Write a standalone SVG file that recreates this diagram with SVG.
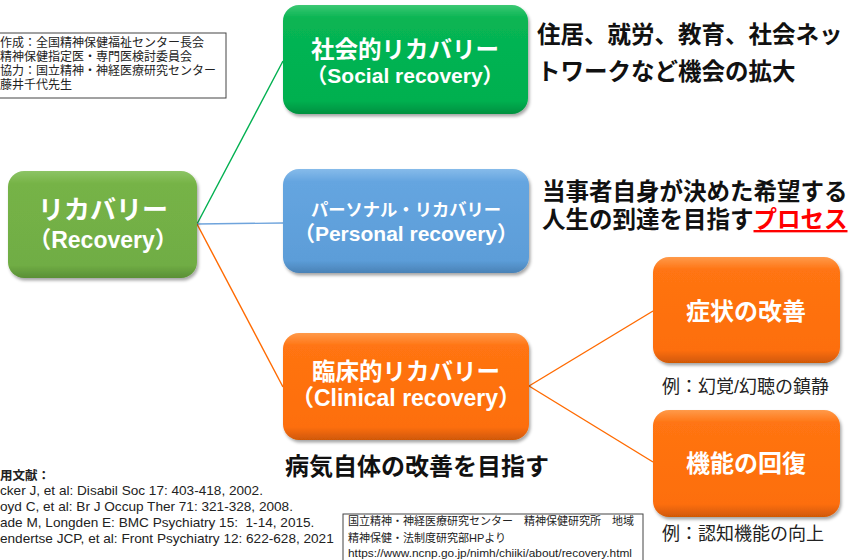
<svg xmlns="http://www.w3.org/2000/svg" width="853" height="560" viewBox="0 0 853 560">
<defs>
<filter id="sh" x="-10%" y="-10%" width="125%" height="130%">
<feDropShadow dx="1.5" dy="2.5" stdDeviation="1.8" flood-color="#000" flood-opacity="0.35"/>
</filter>
<linearGradient id="gRec" x1="0" y1="0" x2="0" y2="1">
<stop offset="0" stop-color="#8cc466"/><stop offset="0.12" stop-color="#76b346"/><stop offset="0.88" stop-color="#70ad45"/><stop offset="1" stop-color="#5a8f35"/>
</linearGradient>
<linearGradient id="gSoc" x1="0" y1="0" x2="0" y2="1">
<stop offset="0" stop-color="#3cc873"/><stop offset="0.12" stop-color="#08b553"/><stop offset="0.88" stop-color="#00b050"/><stop offset="1" stop-color="#00903f"/>
</linearGradient>
<linearGradient id="gPer" x1="0" y1="0" x2="0" y2="1">
<stop offset="0" stop-color="#86bbea"/><stop offset="0.12" stop-color="#65a5e0"/><stop offset="0.88" stop-color="#5c9dd8"/><stop offset="1" stop-color="#4a82b6"/>
</linearGradient>
<linearGradient id="gOra" x1="0" y1="0" x2="0" y2="1">
<stop offset="0" stop-color="#ff9a4a"/><stop offset="0.12" stop-color="#ff7412"/><stop offset="0.88" stop-color="#fd6e0c"/><stop offset="1" stop-color="#d05806"/>
</linearGradient>
<style>
.bx{filter:url(#sh);}
.wt{fill:#fff;font-family:"Liberation Sans","Noto Sans CJK JP",sans-serif;font-weight:bold;text-anchor:middle;}
.bk{fill:#111;font-family:"Liberation Sans","Noto Sans CJK JP",sans-serif;font-weight:bold;}
.sm{fill:#222;font-family:"Liberation Sans","Noto Sans CJK JP",sans-serif;}
.note{fill:#fff;stroke:#444;stroke-width:1;}
.cn{fill:none;stroke-width:1.4;}
</style>
</defs>
<rect width="853" height="560" fill="#fff"/>

<g id="credits">
<rect class="note" x="-2" y="33" width="228" height="65"/>
<text class="sm" font-size="12"><tspan x="0" y="47">作成：全国精神保健福祉センター長会</tspan><tspan x="0" y="61">精神保健指定医・専門医検討委員会</tspan><tspan x="0" y="75">協力：国立精神・神経医療研究センター</tspan><tspan x="0" y="89">藤井千代先生</tspan></text>
</g>

<g id="connectors">
<line class="cn" stroke="#00b050" x1="197" y1="224" x2="283" y2="61"/>
<line class="cn" stroke="#6fa4dc" x1="197" y1="224" x2="283" y2="223"/>
<line class="cn" stroke="#ff6a00" x1="197" y1="224" x2="283" y2="387"/>
<line class="cn" stroke="#ff6a00" x1="529" y1="386" x2="653" y2="311"/>
<line class="cn" stroke="#ff6a00" x1="529" y1="386" x2="653" y2="462"/>
</g>

<g id="recovery">
<rect class="bx" x="8" y="171" width="189" height="107" rx="16" fill="url(#gRec)"/>
<text class="wt" x="103" y="219" font-size="26">リカバリー</text>
<text class="wt" x="103" y="248" font-size="23">（Recovery）</text>
</g>

<g id="social">
<rect class="bx" x="283" y="5" width="245" height="109" rx="16" fill="url(#gSoc)"/>
<text class="wt" x="405" y="58" font-size="23.5">社会的リカバリー</text>
<text class="wt" x="405" y="83" font-size="21">（Social recovery）</text>
</g>

<g id="personal">
<rect class="bx" x="283" y="169" width="246" height="104" rx="16" fill="url(#gPer)"/>
<text class="wt" x="406" y="216" font-size="17.3">パーソナル・リカバリー</text>
<text class="wt" x="406" y="241" font-size="21">（Personal recovery）</text>
</g>

<g id="clinical">
<rect class="bx" x="283" y="333" width="246" height="107" rx="16" fill="url(#gOra)"/>
<text class="wt" x="406" y="380" font-size="23.5">臨床的リカバリー</text>
<text class="wt" x="406" y="406" font-size="23">（Clinical recovery）</text>
</g>

<g id="symptom">
<rect class="bx" x="653" y="257" width="187" height="106" rx="16" fill="url(#gOra)"/>
<text class="wt" x="746" y="320" font-size="24">症状の改善</text>
</g>

<g id="function">
<rect class="bx" x="653" y="410" width="187" height="107" rx="16" fill="url(#gOra)"/>
<text class="wt" x="746" y="472" font-size="24">機能の回復</text>
</g>

<g id="labels">
<text class="bk" font-size="23.5"><tspan x="537" y="43">住居、就労、教育、社会ネッ</tspan><tspan x="537" y="80">トワークなど機会の拡大</tspan></text>
<text class="bk" font-size="23.5"><tspan x="542" y="200">当事者自身が決めた希望する</tspan><tspan x="542" y="228">人生の到達を目指す</tspan><tspan fill="#ff0000" style="text-decoration:underline">プロセス</tspan></text>
<text class="bk" x="285" y="475" font-size="24">病気自体の改善を目指す</text>
<text class="sm" x="662" y="393" font-size="18">例：幻覚/幻聴の鎮静</text>
<text class="sm" x="662" y="540" font-size="18">例：認知機能の向上</text>
</g>

<g id="references">
<text class="sm" x="0" y="480" font-size="12.5" font-weight="bold">用文献：</text>
<text class="sm" font-size="13.6"><tspan x="0" y="495">cker J, et al: Disabil Soc 17: 403-418, 2002.</tspan><tspan x="0" y="511">oyd C, et al: Br J Occup Ther 71: 321-328, 2008.</tspan><tspan x="0" y="527">ade M, Longden E: BMC Psychiatry 15:&#160; 1-14, 2015.</tspan><tspan x="0" y="543">endertse JCP, et al: Front Psychiatry 12: 622-628, 2021</tspan></text>
</g>

<g id="source">
<rect class="note" x="343" y="514" width="300" height="50"/>
<text class="sm" font-size="11"><tspan x="348" y="525">国立精神・神経医療研究センター　精神保健研究所　地域</tspan><tspan x="348" y="542">精神保健・法制度研究部HPより</tspan></text>
<text class="sm" font-size="11" x="348" y="557" textLength="284" lengthAdjust="spacingAndGlyphs">https://www.ncnp.go.jp/nimh/chiiki/about/recovery.html</text>
</g>
</svg>
